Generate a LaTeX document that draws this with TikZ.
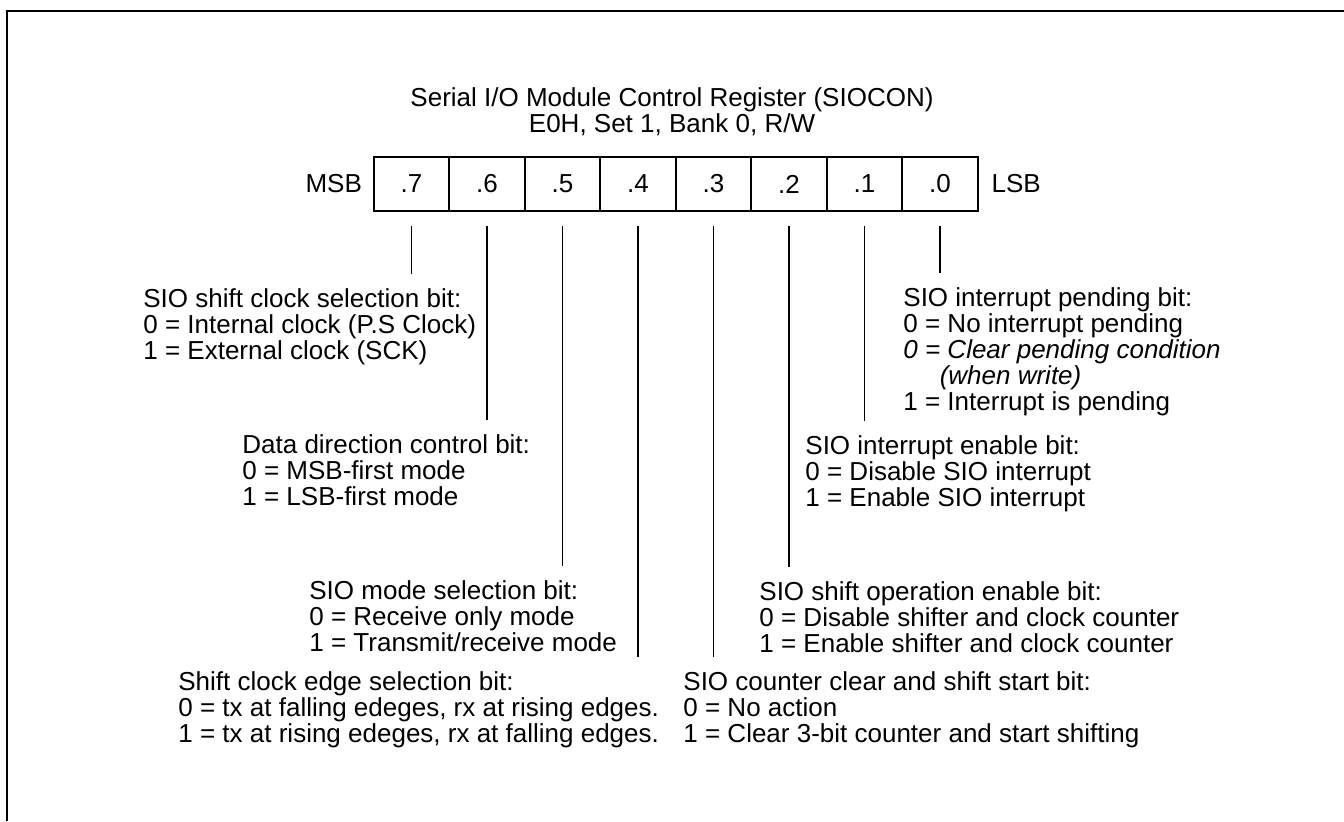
\documentclass[tikz,border=0pt]{standalone}
\usepackage{fontspec}
\setmainfont{Liberation Sans}
\usetikzlibrary{positioning}
\newcommand{\regfont}{\fontsize{13pt}{13pt}\selectfont}
\tikzset{
  cell/.style={rectangle, draw=black, line width=0.8pt, minimum width=37.75pt,
               minimum height=27pt, inner sep=0pt, font=\regfont},
  desc/.style={anchor=north west, align=left, inner xsep=0pt, inner ysep=7pt,
               font=\regfont},
  leader/.style={draw=black, line width=0.8pt},
  frame/.style={draw=black, line width=1.2pt},
}

\begin{document}
\begin{tikzpicture}[x=0.5pt, y=-0.5pt]
  \useasboundingbox (0,0) rectangle (1344,821);
  \draw[frame] (7,821) -- (7,11) -- (1344,11);

  % title
  \node[font=\regfont, align=center] (title) at (672,112)
    {Serial I/O Module Control Register (SIOCON)\\E0H, Set 1, Bank 0, R/W};

  % register bits
  \foreach \i in {0,...,7}
    \node[cell] (b\i) at ({940-75.5*\i},184) {.\i};
  \node[font=\regfont, left=2pt of b7] (msb) {MSB};
  \node[font=\regfont, right=3pt of b0] (lsb) {LSB};

  % bit descriptions
  \node[desc] (t7) at (143,274) {SIO shift clock selection bit:\\0 = Internal clock (P.S Clock)\\1 = External clock (SCK)};
  \node[desc] (t6) at (242,420) {Data direction control bit:\\0 = MSB-first mode\\1 = LSB-first mode};
  \node[desc] (t5) at (309,566) {SIO mode selection bit:\\0 = Receive only mode\\1 = Transmit/receive mode};
  \node[desc] (t4) at (178,657) {Shift clock edge selection bit:\\0 = tx at falling edeges, rx at rising edges.\\1 = tx at rising edeges, rx at falling edges.};
  \node[desc] (t3) at (683,657) {SIO counter clear and shift start bit:\\0 = No action\\1 = Clear 3-bit counter and start shifting};
  \node[desc] (t2) at (759,567) {SIO shift operation enable bit:\\0 = Disable shifter and clock counter\\1 = Enable shifter and clock counter};
  \node[desc] (t1) at (805,421) {SIO interrupt enable bit:\\0 = Disable SIO interrupt\\1 = Enable SIO interrupt};
  \node[desc] (t0) at (903,273) {SIO interrupt pending bit:\\0 = No interrupt pending\\\textit{0 = Clear pending condition}\\\hspace*{1.4em}\textit{(when write)}\\1 = Interrupt is pending};

  % leaders
  \foreach \i in {0,...,7}
    \draw[leader] ([yshift=-7pt]b\i.south) -- (b\i.south |- t\i.north);
\end{tikzpicture}
\end{document}
